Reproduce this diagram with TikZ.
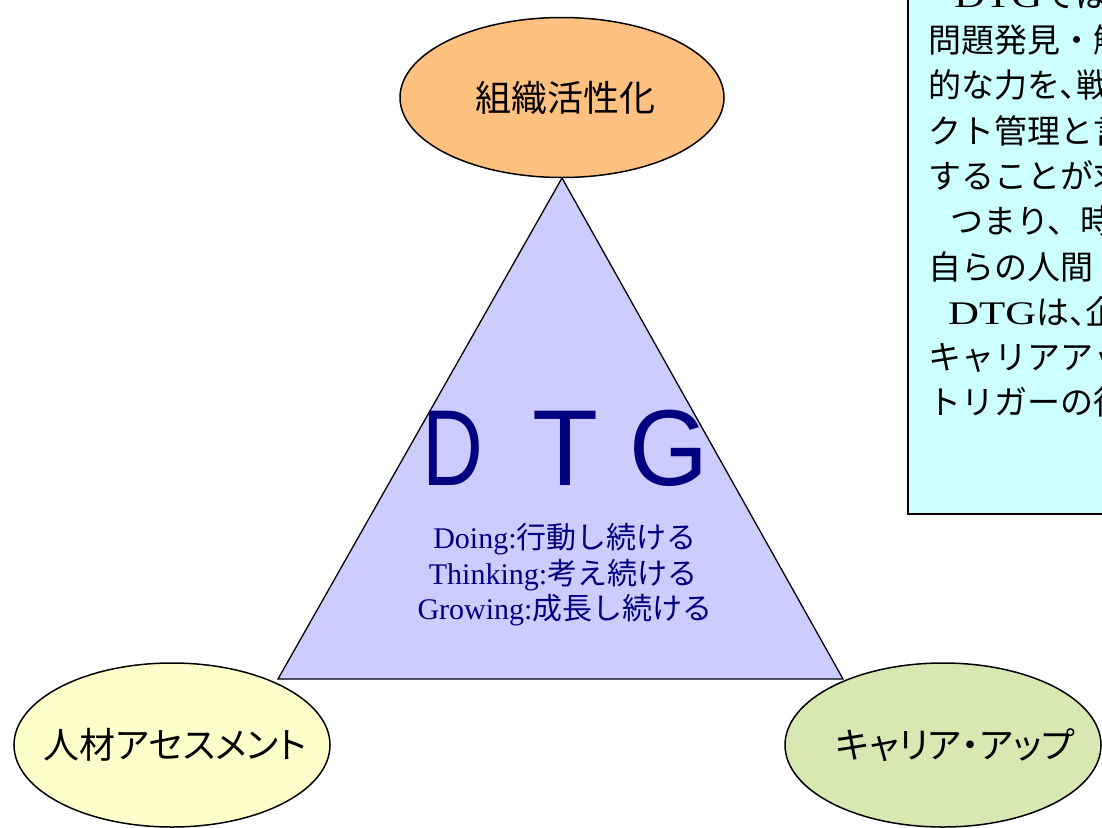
\documentclass[tikz,border=0pt]{standalone}
\usepackage{fontspec}
\usepackage{graphicx}
\setmainfont{Liberation Serif}
\newfontfamily\jpfont{Noto Sans CJK JP}
\newfontfamily\jpfontp[RawFeature=+palt]{Noto Sans CJK JP}
\newfontfamily\arialfont{Liberation Sans}
\usetikzlibrary{shapes.geometric}
\definecolor{orgfill}{HTML}{FFC080}
\definecolor{yelfill}{HTML}{FFFFCC}
\definecolor{grnfill}{HTML}{D7E8B3}
\definecolor{trifill}{HTML}{CCCCFF}
\definecolor{boxfill}{HTML}{CCFFFF}
\definecolor{navytext}{HTML}{000080}
\newcommand{\bubbletext}[2]{\makebox[0pt]{\hspace*{#1}#2}}
\begin{document}
\begin{tikzpicture}[x=1pt,y=-1pt,
  bubble/.style={ellipse, draw=black, line width=1.5pt, inner sep=0pt,
    font=\jpfontp\fontsize{36}{40}\selectfont},
  tri/.style={fill=trifill, draw=black, line width=1.3pt, line join=miter},
  bigletter/.style={anchor=base, inner sep=0pt, text=navytext,
    font=\arialfont\fontsize{108}{110}\selectfont},
  triline/.style={anchor=base, inner sep=0pt, text=navytext,
    font=\fontsize{30}{32}\selectfont},
  noteframe/.style={fill=boxfill, draw=black, line width=1.2pt},
  noteline/.style={anchor=base west, inner sep=0pt,
    font=\jpfont\fontsize{33}{40}\selectfont}]
\useasboundingbox (0,0) rectangle (1102,827);
\clip (0,0) rectangle (1102,827);

% triangle
\coordinate (apex) at (562,178);
\coordinate (bl) at (278,679);
\coordinate (br) at (843,679);
\draw[tri] (apex) -- (bl) -- (br) -- cycle;

% big DTG
\node[bigletter] (dD) at (453,485) {\scalebox{0.78}[1]{D}};
\node[bigletter] (dT) at (565,485) {T};
\node[bigletter] (dG) at (669,485) {\scalebox{0.94}[1]{G}};

% three lines
\node[triline] (doing) at (565,548) {Doing:{\jpfont 行動し続ける}};
\node[triline] (thinking) at (563,584) {Thinking:{\jpfont 考え続ける}};
\node[triline] (growing) at (565,619) {Growing:{\jpfont 成長し続ける}};

% ellipses
\node[bubble, fill=orgfill, minimum width=324pt, minimum height=160pt] (soshiki) at (562,97.5) {\bubbletext{6pt}{組織活性化}};
\node[bubble, fill=yelfill, minimum width=316pt, minimum height=164pt] (jinzai) at (172,745) {\bubbletext{6pt}{人材アセスメント}};
\node[bubble, fill=grnfill, minimum width=316pt, minimum height=164pt] (career) at (943,745) {\bubbletext{24pt}{キャリア・アップ}};

% note box
\draw[noteframe] (908,-10) rectangle (1130,514);
\node[noteline] (n1) at (928,7.2) {\hspace*{26pt}\scalebox{1.3}[1]{\rmfamily DTG}では};
\node[noteline] (n2) at (928,52.5) {問題発見・解};
\node[noteline] (n3) at (928,97.8) {的な力を{\jpfontp 、}戦};
\node[noteline] (n4) at (928,143.1) {クト管理と言};
\node[noteline] (n5) at (928,188.4) {することが求};
\node[noteline] (n6) at (928,233.7) {\hspace*{22pt}つまり、時};
\node[noteline] (n7) at (928,279.0) {自らの人間};
\node[noteline] (n8) at (928,324.3) {\hspace*{20pt}\scalebox{1.3}[1]{\rmfamily DTG}は{\jpfontp 、}企};
\node[noteline] (n9) at (928,369.6) {キャリアアッ};
\node[noteline] (n10) at (928,414.9) {トリガーの役};
\end{tikzpicture}
\end{document}
